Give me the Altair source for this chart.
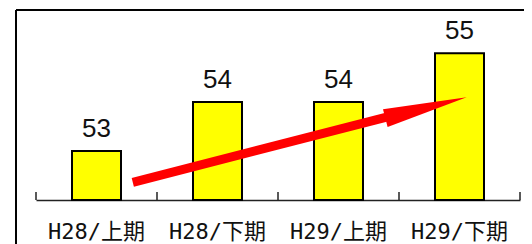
import altair as alt
import pandas as pd

CATEGORIES = ["H28/上期", "H28/下期", "H29/上期", "H29/下期"]
VALUES = [53, 54, 54, 55]
Y_MIN = 52
Y_MAX = 55.8
# arrow in (category-index, value) space
ARROW_X = [0.80, 2.97]
ARROW_Y = [52.36, 53.74]
HEAD_X = [3.223]
HEAD_Y = [53.886]
TICK_POS = [0, 1, 2, 3, 4]

W, H = 484, 186

bars_df = pd.DataFrame({"cat": CATEGORIES, "val": VALUES})
arrow_df = pd.DataFrame({"ax": ARROW_X, "ay": ARROW_Y})
head_df = pd.DataFrame({"hx": HEAD_X, "hy": HEAD_Y})
ticks_df = pd.DataFrame({"t": TICK_POS})

yscale = alt.Scale(domain=[Y_MIN, Y_MAX], zero=False, nice=False)
xband = alt.Scale(domain=CATEGORIES, paddingInner=0.595, paddingOuter=0.2975)
xq = alt.Scale(domain=[0, 4], nice=False, zero=False)

base = alt.Chart(bars_df)

bars = base.mark_bar(color="#FFFF00", stroke="#000000", strokeWidth=2).encode(
    x=alt.X("cat:N", scale=xband, sort=CATEGORIES,
            axis=alt.Axis(title=None, ticks=False, domainColor="#222222",
                          domainWidth=1.5, labelAngle=0,
                          labelFont="DejaVu Sans Mono, Noto Sans CJK JP",
                          labelFontSize=22, labelColor="#111111",
                          labelPadding=31, labelBaseline="middle")),
    y=alt.Y("val:Q", scale=yscale, axis=None),
    y2=alt.datum(Y_MIN),
)

labels = base.mark_text(font="Liberation Sans Narrow, Liberation Sans", fontSize=26,
                        baseline="alphabetic", dy=-14, color="#111111").encode(
    x=alt.X("cat:N", scale=xband, sort=CATEGORIES),
    y=alt.Y("val:Q", scale=yscale),
    text=alt.Text("val:Q"),
)

bars_layer = alt.layer(bars, labels)

ticks = alt.Chart(ticks_df).mark_rule(color="#222222", strokeWidth=1.5).encode(
    x=alt.X("t:Q", scale=xq, axis=None),
    y=alt.value(H - 8),
    y2=alt.value(H),
)

shaft = alt.Chart(arrow_df).mark_line(color="#FF0000", strokeWidth=9, strokeCap="butt").encode(
    x=alt.X("ax:Q", scale=xq, axis=None),
    y=alt.Y("ay:Q", scale=yscale),
)

head = alt.Chart(head_df).mark_point(
    shape="M -1 -0.22 L 1 0 L -1 0.22 Z", size=7056, filled=True,
    color="#FF0000", opacity=1, strokeWidth=0, angle=345.6,
).encode(
    x=alt.X("hx:Q", scale=xq, axis=None),
    y=alt.Y("hy:Q", scale=yscale),
)

frame_top = alt.Chart(bars_df).mark_rule(color="#000000", strokeWidth=1.5).encode(
    x=alt.value(-20), x2=alt.value(W + 40), y=alt.value(-4)
)
frame_left = alt.Chart(bars_df).mark_rule(color="#000000", strokeWidth=1.5).encode(
    x=alt.value(-20), y=alt.value(-4), y2=alt.value(H + 80)
)

chart = alt.layer(bars_layer, ticks, shaft, head, frame_top, frame_left).resolve_scale(
    x="independent"
).properties(
    width=W, height=H,
    autosize=alt.AutoSizeParams(type="none"),
    padding={"left": 28, "top": 6, "right": 4, "bottom": 48},
).configure_view(stroke=None)

chart.save("out.html", embed_options={"renderer": "svg", "actions": False})
